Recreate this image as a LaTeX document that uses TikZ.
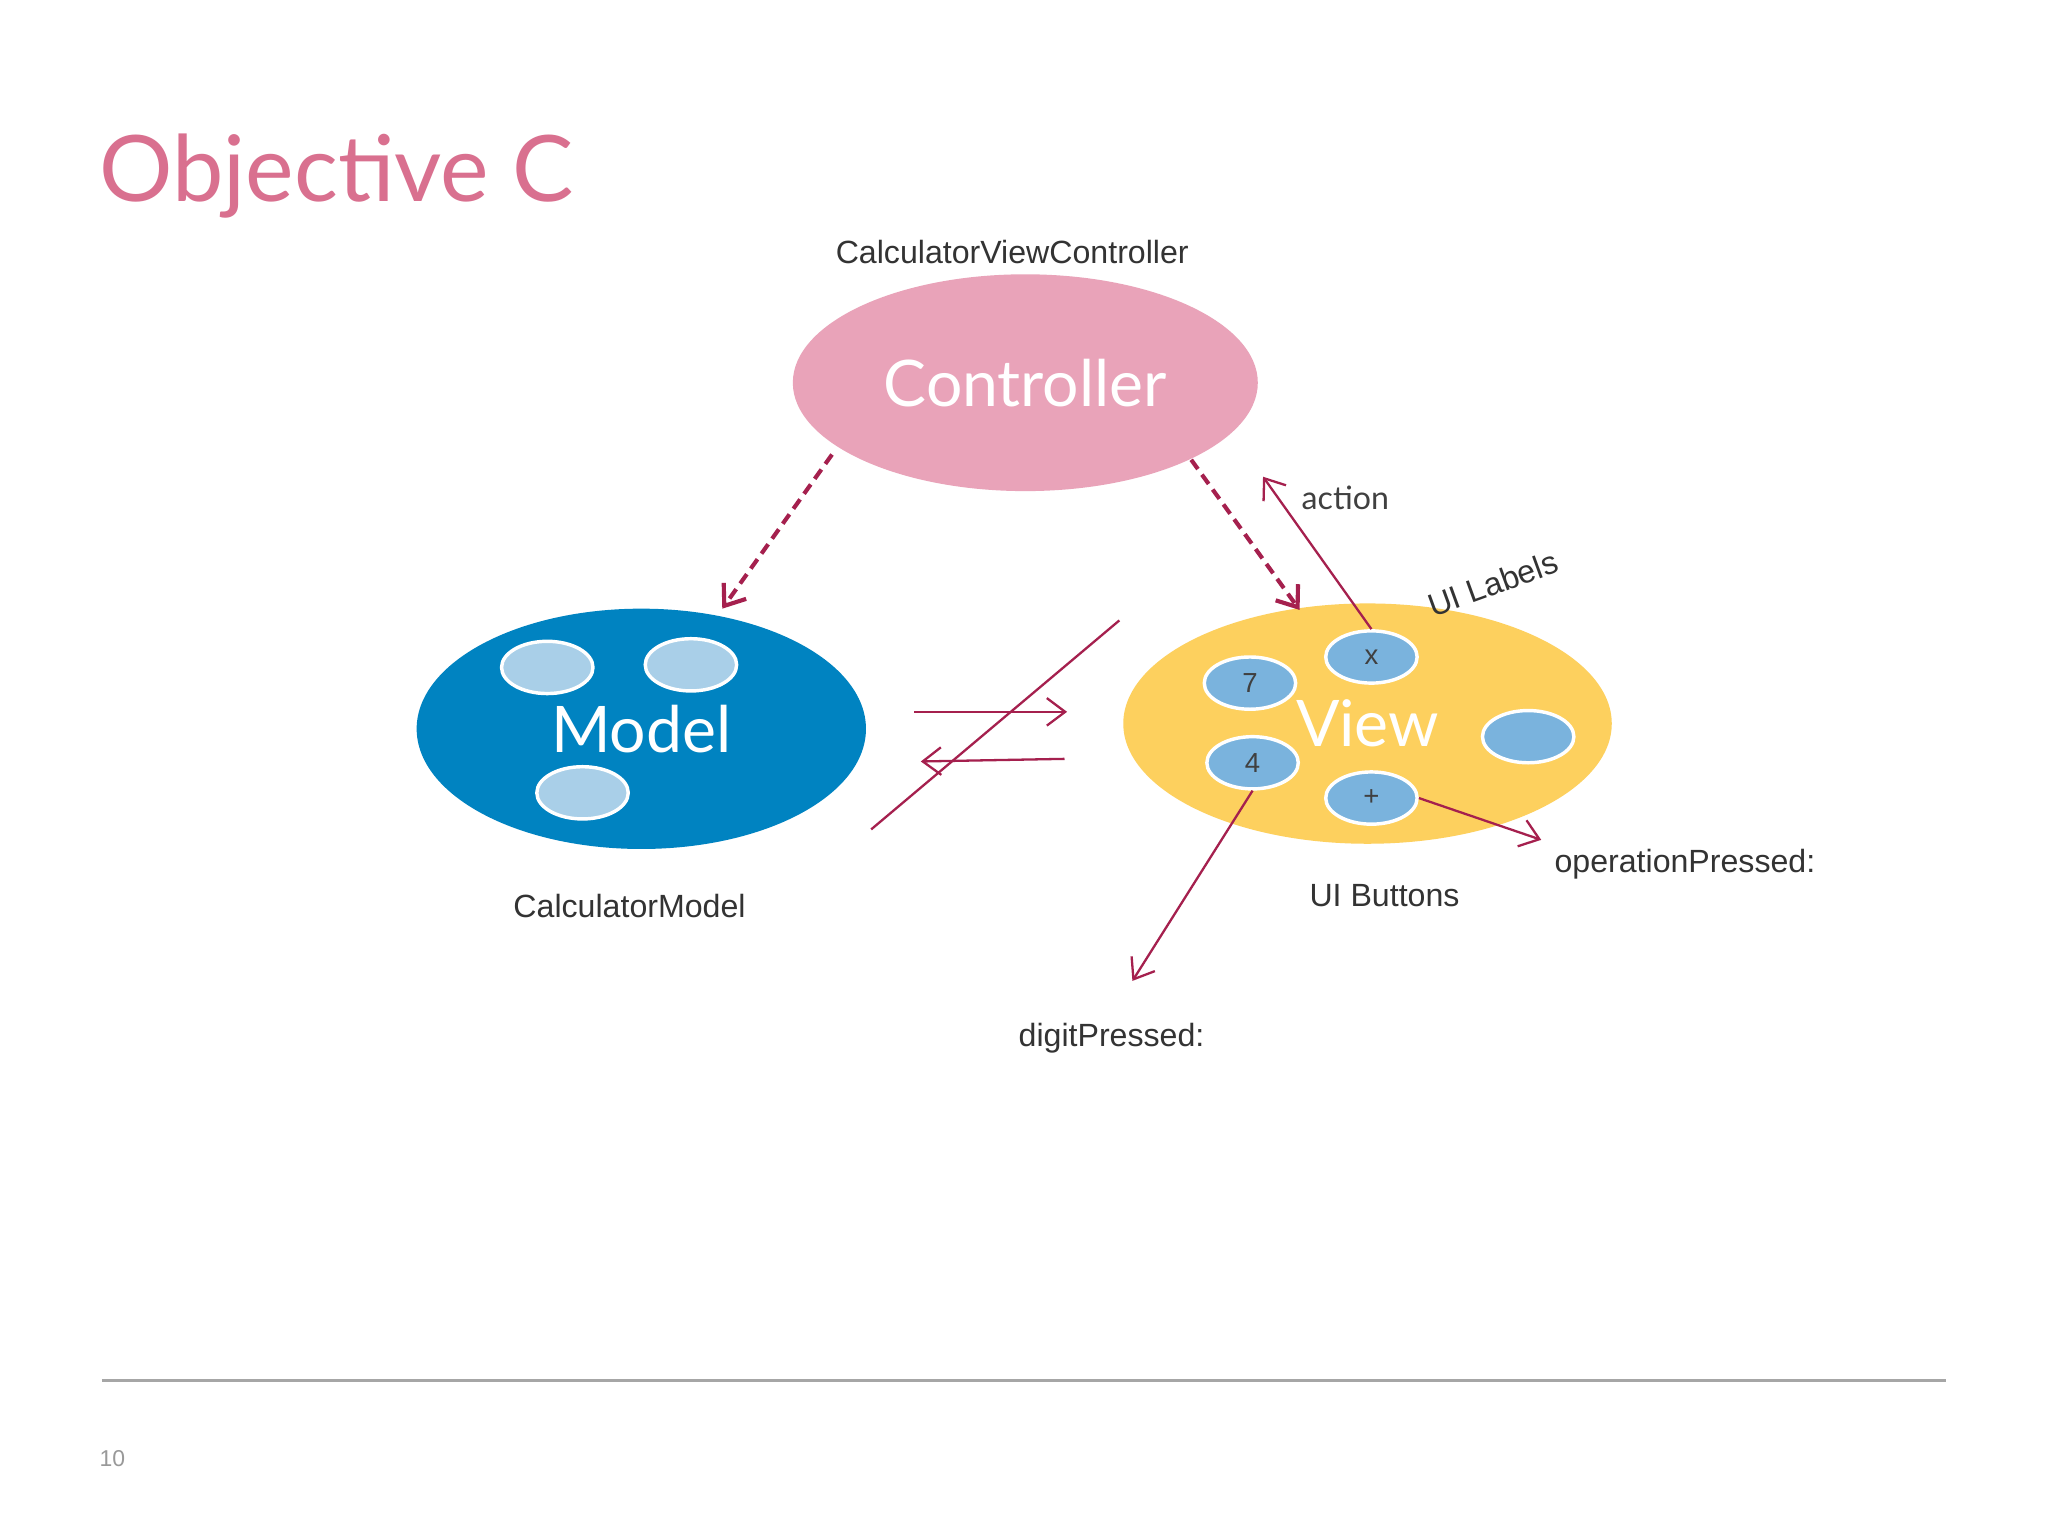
\documentclass[tikz,border=0pt]{standalone}
\usepackage{fontspec}
\setmainfont{Liberation Sans}
\newfontfamily\hum{Lato}
\usetikzlibrary{arrows.meta,shapes.geometric}
\definecolor{crim}{HTML}{A5204E}
\definecolor{ttl}{HTML}{D9708F}
\begin{document}
\begin{tikzpicture}[x=0.02cm,y=-0.02cm,
  sm/.style={draw=white,line width=1.5pt,ellipse,minimum width=70*0.02cm,minimum height=40*0.02cm,inner sep=0pt,font=\fontsize{12}{14}\selectfont,text=black!75},
  lbl/.style={font=\fontsize{14}{16}\selectfont,text=black!80},
  arr/.style={draw=crim,line width=1pt,-{Straight Barb[length=8pt,width=12pt]}},
  dasharr/.style={arr,line width=1.8pt,dash pattern=on 5pt off 3pt}]
\useasboundingbox (0,0) rectangle (1568,1176);
\fill[white] (0,0) rectangle (1568,1176);
\node[anchor=west,text=ttl,font=\hum\fontsize{40}{44}\selectfont] (title) at (70,135) {Objective C};
\node[lbl] (cvc) at (775,193) {CalculatorViewController};
\fill[fill={rgb,255:red,233;green,163;blue,185}] (785,293) ellipse [x radius=178,y radius=83];
\node[text=white,font=\hum\fontsize{28}{30}\selectfont] (ctrl) at (785,293) {Controller};
\fill[fill={rgb,255:red,0;green,131;blue,193}] (491,558) ellipse [x radius=172,y radius=92];
\node[sm,fill={rgb,255:red,169;green,207;blue,232}] (m1) at (419,511) {};
\node[sm,fill={rgb,255:red,169;green,207;blue,232}] (m2) at (529,509) {};
\node[sm,fill={rgb,255:red,169;green,207;blue,232}] (m3) at (446,607) {};
\node[text=white,font=\hum\fontsize{28}{30}\selectfont] (model) at (491,558) {Model};
\node[lbl] (cm) at (482,694) {CalculatorModel};
\fill[fill={rgb,255:red,253;green,208;blue,94}] (1047,554) ellipse [x radius=187,y radius=92];
\node[text=white,font=\hum\fontsize{28}{30}\selectfont] (view) at (1047,554) {View};
\node[sm,fill={rgb,255:red,122;green,179;blue,221}] (bx) at (1050,503) {x};
\node[sm,fill={rgb,255:red,122;green,179;blue,221}] (b7) at (957,523) {7};
\node[sm,fill={rgb,255:red,122;green,179;blue,221}] (b4) at (959,584) {4};
\node[sm,fill={rgb,255:red,122;green,179;blue,221}] (bp) at (1050,611) {+};
\node[sm,fill={rgb,255:red,122;green,179;blue,221}] (bb) at (1170,564) {};
\node[lbl,rotate=20] (uil) at (1143,447) {UI Labels};
\node[lbl] (uib) at (1060,686) {UI Buttons};
\node[font=\hum\fontsize{14}{16}\selectfont,text=black!75] (act) at (1030,381) {action};
\node[lbl] (op) at (1290,662) {operationPressed:};
\node[lbl] (dp) at (851,795) {digitPressed:};
\coordinate (c1) at (637,348); \coordinate (c2) at (553,466);
\coordinate (c3) at (912,352); \coordinate (c4) at (995,467);
\coordinate (a1) at (967,365); \coordinate (d1) at (867,751); \coordinate (o1) at (1180,643);
\coordinate (r1) at (700,545); \coordinate (r2) at (817,545);
\coordinate (l1) at (815,581); \coordinate (l2) at (705,583);
\coordinate (s1) at (667,635); \coordinate (s2) at (857,475);
\draw[dasharr] (c1) -- (c2);
\draw[dasharr] (c3) -- (c4);
\draw[arr] (bx.north) -- (a1);
\draw[arr] (b4.south) -- (d1);
\draw[arr] (bp.east) -- (o1);
\draw[arr] (r1) -- (r2);
\draw[arr] (l1) -- (l2);
\draw[crim,line width=1pt] (s1) -- (s2);
\draw[black!35,line width=1pt] (78,1057) coordinate (h1) -- (1490,1057) coordinate (h2);
\node[text=black!40,font=\fontsize{10}{12}\selectfont] (pg) at (86,1117) {10};
\end{tikzpicture}
\end{document}
